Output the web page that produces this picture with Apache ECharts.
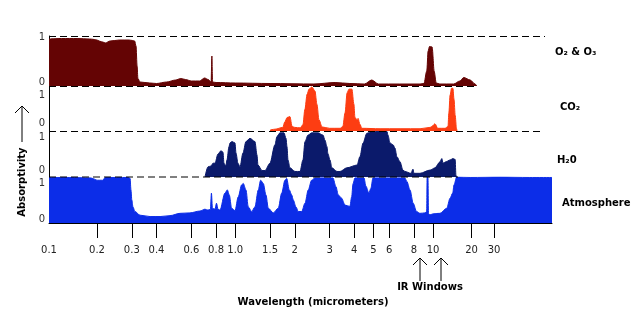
<!DOCTYPE html>
<html><head><meta charset="utf-8">
<script src="https://cdn.jsdelivr.net/npm/echarts@6/dist/echarts.min.js"></script>
<style>html,body{margin:0;padding:0;background:#fff}#c{width:632px;height:312px}</style>
</head><body><div id="c"></div>
<script>
// wavelength (micrometers), absorptivity (0..1)
const o2o3 = [[0.1,0.94],[0.12,0.95],[0.15,0.95],[0.18,0.94],[0.2,0.92],[0.214,0.88],[0.22,0.86],[0.233,0.9],[0.26,0.92],[0.29,0.92],[0.303,0.91],[0.31,0.9],[0.315,0.8],[0.319,0.4],[0.322,0.15],[0.33,0.08],[0.37,0.06],[0.4,0.05],[0.45,0.08],[0.5,0.12],[0.53,0.15],[0.56,0.13],[0.6,0.1],[0.66,0.1],[0.7,0.16],[0.73,0.13],[0.755,0.08],[0.762,0.6],[0.768,0.08],[0.8,0.07],[1.0,0.06],[1.5,0.05],[2.5,0.04],[3.2,0.07],[3.8,0.05],[4.5,0.04],[4.9,0.12],[5.3,0.04],[8.6,0.04],[9.0,0.05],[9.3,0.3],[9.45,0.7],[9.6,0.79],[9.9,0.78],[10,0.6],[10.2,0.3],[10.6,0.06],[11.3,0.04],[14.5,0.04],[16.2,0.1],[17.4,0.17],[19.5,0.12],[21.3,0.04],[22,0]];
const co2 = [[1.5,0.02],[1.59,0.04],[1.74,0.08],[1.78,0.2],[1.83,0.3],[1.89,0.32],[1.94,0.1],[2.0,0.08],[2.13,0.07],[2.2,0.14],[2.25,0.48],[2.31,0.82],[2.36,0.93],[2.44,0.98],[2.53,0.89],[2.59,0.59],[2.65,0.25],[2.75,0.09],[3.0,0.06],[3.39,0.06],[3.5,0.1],[3.59,0.4],[3.68,0.85],[3.76,0.93],[3.89,0.93],[3.98,0.6],[4.03,0.3],[4.13,0.25],[4.18,0.28],[4.27,0.15],[4.37,0.06],[5.4,0.05],[8.6,0.05],[9.65,0.08],[10,0.12],[10.36,0.16],[10.9,0.06],[12.4,0.06],[13.1,0.1],[13.3,0.4],[13.6,0.8],[13.95,0.95],[14.3,0.95],[14.6,0.7],[14.9,0.35],[15.25,0.06],[15.4,0]];
const h2o = [[0.703,0],[0.728,0.22],[0.754,0.24],[0.772,0.3],[0.79,0.3],[0.818,0.5],[0.847,0.57],[0.867,0.54],[0.877,0.3],[0.897,0.24],[0.908,0.37],[0.93,0.66],[0.941,0.74],[0.963,0.77],[0.997,0.74],[1.009,0.52],[1.032,0.3],[1.057,0.22],[1.094,0.52],[1.133,0.77],[1.187,0.84],[1.258,0.77],[1.288,0.48],[1.303,0.26],[1.366,0.14],[1.414,0.14],[1.498,0.3],[1.588,0.7],[1.626,0.88],[1.683,0.96],[1.764,0.96],[1.806,0.84],[1.827,0.66],[1.848,0.37],[1.891,0.2],[2.005,0.12],[2.125,0.12],[2.2,0.37],[2.253,0.77],[2.332,0.91],[2.44,0.96],[2.62,0.96],[2.78,0.91],[2.843,0.8],[2.91,0.66],[2.94,0.51],[3.014,0.37],[3.08,0.2],[3.27,0.12],[3.387,0.12],[3.67,0.2],[4.13,0.26],[4.27,0.44],[4.43,0.74],[4.63,0.95],[4.91,0.99],[5.85,0.99],[5.92,0.91],[6.06,0.74],[6.28,0.7],[6.42,0.63],[6.57,0.44],[6.81,0.33],[7.05,0.15],[7.21,0.12],[7.74,0.08],[7.92,0.17],[8.01,0.08],[8.59,0.08],[9.65,0.15],[10,0.18],[10.36,0.2],[11.34,0.33],[11.72,0.4],[11.97,0.3],[12.6,0.33],[13.6,0.37],[14.3,0.4],[14.9,0.38],[15.1,0.04],[15.25,0]];
const atmosphere = [[0.1,0.99],[0.135,0.99],[0.181,0.98],[0.2,0.93],[0.214,0.93],[0.22,0.99],[0.287,0.99],[0.294,0.97],[0.297,0.72],[0.3,0.5],[0.304,0.35],[0.311,0.25],[0.33,0.17],[0.371,0.14],[0.417,0.14],[0.468,0.16],[0.526,0.21],[0.59,0.22],[0.663,0.26],[0.703,0.3],[0.728,0.28],[0.749,0.3],[0.758,0.65],[0.767,0.32],[0.79,0.3],[0.804,0.43],[0.818,0.3],[0.837,0.28],[0.887,0.65],[0.912,0.72],[0.933,0.61],[0.959,0.32],[0.997,0.27],[1.036,0.57],[1.078,0.83],[1.098,0.86],[1.133,0.72],[1.164,0.35],[1.211,0.25],[1.258,0.35],[1.308,0.72],[1.344,0.93],[1.386,0.86],[1.43,0.61],[1.47,0.32],[1.557,0.22],[1.65,0.32],[1.718,0.65],[1.784,0.93],[1.82,0.97],[1.876,0.72],[1.93,0.61],[1.966,0.5],[2.028,0.35],[2.084,0.25],[2.168,0.25],[2.253,0.43],[2.34,0.72],[2.434,0.93],[2.53,0.98],[3.12,0.98],[3.23,0.79],[3.32,0.61],[3.45,0.54],[3.59,0.39],[3.8,0.36],[3.88,0.57],[3.94,0.85],[4.03,0.98],[4.48,0.98],[4.58,0.8],[4.74,0.65],[4.85,0.75],[4.97,0.98],[7.21,0.98],[7.38,0.9],[7.65,0.72],[7.94,0.43],[8.26,0.25],[8.59,0.21],[9.11,0.22],[9.29,0.25],[9.34,1.0],[9.43,1.0],[9.49,0.2],[9.65,0.18],[10,0.2],[11.34,0.21],[12.8,0.32],[13.6,0.54],[14.25,0.65],[14.6,0.83],[15.3,1.0],[19.5,0.99],[33.4,1.0],[57,0.99],[85,0.99]];

const panelNames = ['O₂ & O₃', 'CO₂', 'H₂0', 'Atmosphere'];
const firstTickLabel = [0.1];
const midTickLabels = [0.2, 0.3, 0.4, 0.6, 0.8, 1, 1.5, 2, 3, 4, 5, 6, 8, 10];
const farTickLabels = [20, 30];
const yTickLabels = ['0', '1'];

const FONT = 'DejaVu Sans';
const panels = [
  {data: o2o3, color: '#640404', top: 36, height: 50, up0: 4, down1: 1, lx: 555, ly: 52},
  {data: co2, color: '#fd3d12', top: 86, height: 45, up0: 8, down1: 9, lx: 560, ly: 107},
  {data: h2o, color: '#0b1a6b', top: 131, height: 46, up0: 7, down1: 6, lx: 557, ly: 160},
  {data: atmosphere, color: '#0c2de8', top: 177, height: 46, up0: 4, down1: 6, lx: 562, ly: 203}
];
// the reference axis is piecewise logarithmic: three log segments side by side
const segs = [
  {left: 49, width: 48, min: 0.1, max: 0.2, ticks: firstTickLabel, showTick: false},
  {left: 97, width: 336, min: 0.2, max: 10, ticks: midTickLabels, showTick: true},
  {left: 433, width: 119, min: 10, max: 85, ticks: farTickLabels, showTick: true}
];

const grid = [], xAxis = [], yAxis = [], series = [];
panels.forEach((p, pi) => {
  const bottom = pi === panels.length - 1;
  segs.forEach((s, si) => {
    const gi = grid.length;
    grid.push({left: s.left, width: s.width, top: p.top, height: p.height, containLabel: false});
    xAxis.push({
      type: 'log', logBase: 10, gridIndex: gi, min: s.min, max: s.max, show: bottom,
      axisLine: {show: bottom, lineStyle: {color: '#000', width: 1}},
      axisTick: {show: bottom && s.showTick, customValues: s.ticks, length: 15, lineStyle: {color: '#000', width: 1}},
      axisLabel: {show: bottom, customValues: s.ticks, margin: 22, fontSize: 10, color: '#222', fontFamily: FONT,
        formatter: v => (Math.abs(v - 1) < 1e-9 ? '1.0' : String(+(+v).toPrecision(3)))},
      splitLine: {show: false}, minorTick: {show: false}
    });
    yAxis.push({
      type: 'value', gridIndex: gi, min: 0, max: 1, interval: 1, show: si === 0,
      axisLine: {show: si === 0, lineStyle: {color: '#000', width: 1}},
      axisTick: {show: false}, splitLine: {show: false},
      axisLabel: {show: si === 0, margin: 4, fontSize: 10, color: '#333', fontFamily: FONT,
        formatter: v => (v === 0 ? '{a|' + yTickLabels[0] + '}' : '{b|' + yTickLabels[1] + '}'),
        rich: {
          a: {padding: [0, 0, 2 * p.up0, 0], fontSize: 10, color: '#333', fontFamily: FONT},
          b: {padding: [2 * p.down1, 0, 0, 0], fontSize: 10, color: '#333', fontFamily: FONT}
        }}
    });
    const pts = p.data.filter(d => d[0] >= s.min - 1e-9 && d[0] <= s.max + 1e-9);
    series.push({
      type: 'line', name: panelNames[pi], xAxisIndex: gi, yAxisIndex: gi, data: pts,
      showSymbol: false, symbol: 'none', smooth: 0.3, smoothMonotone: 'x', silent: true,
      lineStyle: {color: p.color, width: 1}, areaStyle: {color: p.color, opacity: 1}, z: 2
    });
  });
});

const dash = {stroke: '#000', lineWidth: 1, lineDash: [7, 4]};
const txt = (t, x, y, align, extra) => Object.assign({type: 'text', x, y, z: 100,
  style: {text: t, font: 'bold 10px "' + FONT + '"', fill: '#000', align: align, verticalAlign: 'middle'}}, extra || {});
const graphic = [
  {type: 'line', shape: {x1: 49, y1: 36.5, x2: 545, y2: 36.5}, style: dash, z: 100},
  {type: 'line', shape: {x1: 49, y1: 86.5, x2: 478, y2: 86.5}, style: dash, z: 100},
  {type: 'line', shape: {x1: 49, y1: 131.5, x2: 542, y2: 131.5}, style: dash, z: 100},
  {type: 'line', shape: {x1: 49, y1: 177, x2: 458, y2: 177}, style: dash, z: 100},
  txt(panelNames[0], panels[0].lx, panels[0].ly, 'left'),
  txt(panelNames[1], panels[1].lx, panels[1].ly, 'left'),
  txt(panelNames[2], panels[2].lx, panels[2].ly, 'left'),
  txt(panelNames[3], panels[3].lx, panels[3].ly, 'left'),
  txt('Absorptivity', 22, 182, 'center', {rotation: Math.PI / 2}),
  {type: 'polyline', shape: {points: [[22, 142], [22, 106]]}, style: {stroke: '#000', lineWidth: 1, fill: null}, z: 100},
  {type: 'polyline', shape: {points: [[15, 113], [22, 106], [29, 113]]}, style: {stroke: '#000', lineWidth: 1, fill: null}, z: 100},
  {type: 'polyline', shape: {points: [[420, 281], [420, 258]]}, style: {stroke: '#000', lineWidth: 1, fill: null}, z: 100},
  {type: 'polyline', shape: {points: [[413, 265], [420, 258], [427, 265]]}, style: {stroke: '#000', lineWidth: 1, fill: null}, z: 100},
  {type: 'polyline', shape: {points: [[441, 281], [441, 258]]}, style: {stroke: '#000', lineWidth: 1, fill: null}, z: 100},
  {type: 'polyline', shape: {points: [[434, 265], [441, 258], [448, 265]]}, style: {stroke: '#000', lineWidth: 1, fill: null}, z: 100},
  txt('IR Windows', 430, 287, 'center'),
  txt('Wavelength (micrometers)', 313, 302, 'center')
];

const chart = echarts.init(document.getElementById('c'), null, {renderer: 'canvas'});
chart.setOption({animation: false, backgroundColor: '#fff', grid, xAxis, yAxis, series, graphic});
</script></body></html>
